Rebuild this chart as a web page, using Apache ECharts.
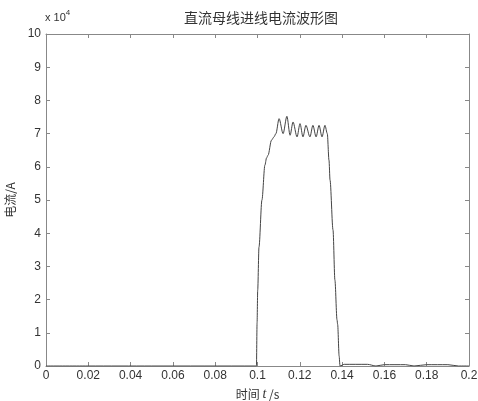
<!DOCTYPE html>
<html><head><meta charset="utf-8">
<script src="https://cdn.jsdelivr.net/npm/echarts@6/dist/echarts.min.js"></script>
<style>html,body{margin:0;padding:0;background:#fff}#c{width:478px;height:401px}</style>
</head><body><div id="c"></div>
<script>
// time in seconds
const timeS = [0, 0.02, 0.05, 0.0995, 0.0998, 0.1001, 0.1007, 0.1021, 0.1035, 0.1043, 0.1050, 0.1066, 0.1078, 0.1087,
  0.1102, 0.1121, 0.1139, 0.1154, 0.1168, 0.1187, 0.1201, 0.1215, 0.1229, 0.1248, 0.1262, 0.1277, 0.1291, 0.1305, 0.1319,
  0.1330, 0.1338, 0.1343, 0.1357, 0.1366, 0.1376, 0.1379, 0.1386, 0.1390, 0.1410, 0.1520, 0.1560, 0.1600, 0.1700, 0.1740, 0.1800, 0.1900, 0.1950, 0.2];
// current in units of 1e4 A
const currentE4 = [0, 0, 0, 0, 1.30, 2.29, 3.58, 5.0, 6.05, 6.27, 6.35, 6.8, 6.9, 7.0,
  7.45, 7.0, 7.52, 6.95, 7.35, 6.9, 7.3, 6.9, 7.25, 6.9, 7.25, 6.9, 7.25, 6.9, 7.25,
  7.0, 6.2, 5.6, 4.1, 2.59, 1.39, 1.25, 0.3, 0, 0.05, 0.05, 0, 0.04, 0.04, 0, 0.04, 0.04, 0, 0];
const xTicks = [0, 0.02, 0.04, 0.06, 0.08, 0.1, 0.12, 0.14, 0.16, 0.18, 0.2];
const yTicks = [0, 1, 2, 3, 4, 5, 6, 7, 8, 9, 10];

const chart = echarts.init(document.getElementById('c'));
const font = 'Liberation Sans, Arial, sans-serif';
const axisColor = '#888';
const common = {
  axisLine: {show: true, onZero: false, lineStyle: {color: axisColor, width: 1}},
  axisTick: {show: true, inside: true, length: 4, lineStyle: {color: axisColor}},
  splitLine: {show: false}
};
chart.setOption({
  animation: false,
  backgroundColor: '#fff',
  title: {text: '直流母线进线电流波形图', left: 256, top: 6, textAlign: 'center',
    textStyle: {fontFamily: 'Noto Sans CJK SC', fontSize: 14, fontWeight: 'normal', color: '#333'}},
  grid: {left: 46, right: 9, top: 34, bottom: 35, show: false, containLabel: false, outerBoundsMode: 'none'},
  xAxis: [
    Object.assign({type: 'value', min: 0, max: 0.2, interval: 0.02, position: 'bottom',
      name: '时间 {i|t} /s', nameLocation: 'middle', nameGap: 21,
      nameTextStyle: {fontFamily: 'Noto Sans CJK SC', fontSize: 12, color: '#333',
        rich: {i: {fontFamily: 'Liberation Serif', fontStyle: 'italic', fontSize: 14, color: '#333'}}},
      axisLabel: {fontFamily: font, fontSize: 12, color: '#333', margin: 4,
        formatter: v => String(+v.toFixed(2))}}, common),
    Object.assign({type: 'value', min: 0, max: 0.2, interval: 0.02, position: 'top',
      axisLabel: {show: false}}, common)
  ],
  yAxis: [
    Object.assign({type: 'value', min: 0, max: 10, interval: 1, position: 'left',
      name: '电流/A', nameLocation: 'middle', nameGap: 25, nameRotate: 90,
      nameTextStyle: {fontFamily: 'Noto Sans CJK SC', fontSize: 12, color: '#333'},
      axisLabel: {fontFamily: font, fontSize: 12, color: '#333', margin: 5}}, common),
    Object.assign({type: 'value', min: 0, max: 10, interval: 1, position: 'right',
      axisLabel: {show: false}}, common)
  ],
  graphic: [{type: 'text', left: 45, top: 9, style: {
    text: '{a|x 10}{b|4}', rich: {
      a: {fontFamily: font, fontSize: 11, fill: '#333', verticalAlign: 'bottom'},
      b: {fontFamily: font, fontSize: 8, fill: '#333', verticalAlign: 'top', padding: [0,0,6,0]}}}}],
  series: [{type: 'line', showSymbol: false, symbol: 'none',
    smooth: 0.3, smoothMonotone: 'x',
    data: timeS.map((t, i) => [t, currentE4[i]]),
    lineStyle: {color: '#444', width: 1}}]
});
</script></body></html>
